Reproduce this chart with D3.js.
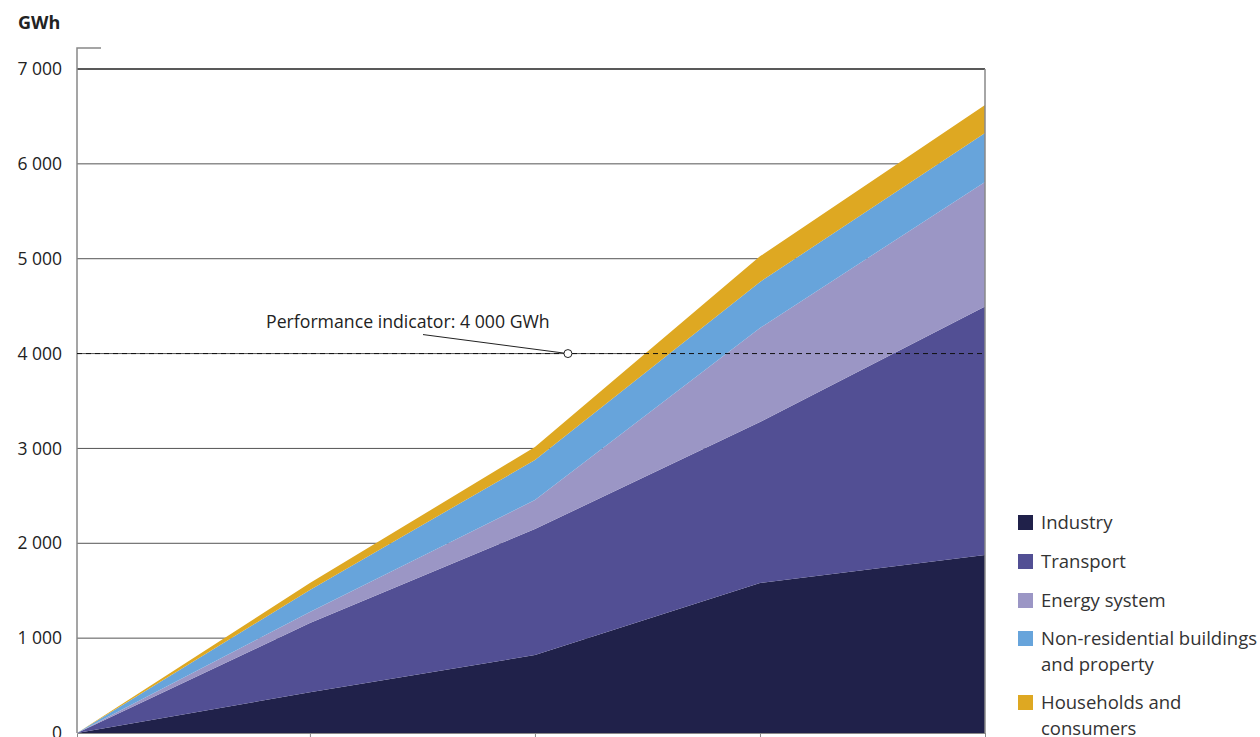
<!DOCTYPE html>
<html>
<head>
    <script src="https://d3js.org/d3.v7.min.js"></script>
    <style>
        body {
            margin: 0;
            background: #fff;
            font-family: 'Open Sans', sans-serif;
            color: #222;
            overflow: hidden;
        }
        .tick-label { font-size: 17.5px; fill: #222; }
        .legend-text { font-size: 18.5px; fill: #333; }
    </style>
</head>
<body>
<div id="chart"></div>
<script>
// Data (GWh per period, stacked from the bottom)
const periods = [0, 1.035, 2.035, 3.035, 4.035];
const industry = [0, 430, 822, 1581, 1876];
const transport = [0, 730, 1328, 1698, 2619];
const energySystem = [0, 116, 306, 991, 1314];
const nonResidential = [0, 232, 422, 485, 516];
const households = [0, 73, 137, 270, 295];

const seriesKeys = ["industry", "transport", "energy", "nonres", "households"];
const seriesLabels = [
    ["Industry"],
    ["Transport"],
    ["Energy system"],
    ["Non-residential buildings", "and property"],
    ["Households and", "consumers"]
];
const seriesColors = ["#20214a", "#524f94", "#9b96c5", "#67a4db", "#dea822"];

const yTicks = [0, 1000, 2000, 3000, 4000, 5000, 6000, 7000];
const target = 4000;
const targetLabel = "Performance indicator: 4 000 GWh";

const rows = periods.map((p, i) => ({
    period: p,
    industry: industry[i],
    transport: transport[i],
    energy: energySystem[i],
    nonres: nonResidential[i],
    households: households[i]
}));

const width = 1260;
const height = 737;
const margin = { top: 69, right: 275, bottom: 4, left: 77 };
const chartWidth = width - margin.left - margin.right;
const chartHeight = height - margin.top - margin.bottom;

const svg = d3.select("#chart")
    .append("svg")
    .attr("width", width)
    .attr("height", height);

const g = svg.append("g")
    .attr("transform", `translate(${margin.left},${margin.top})`);

const x = d3.scaleLinear()
    .domain([0, d3.max(periods)])
    .range([0, chartWidth]);

const y = d3.scaleLinear()
    .domain([0, 7000])
    .range([chartHeight, 0]);

// Gridlines
g.append("g")
    .selectAll("line")
    .data(yTicks.filter(d => d > 0))
    .join("line")
    .attr("x1", 0)
    .attr("x2", chartWidth)
    .attr("y1", d => y(d))
    .attr("y2", d => y(d))
    .attr("stroke", d => d === 7000 ? "#222" : "#555")
    .attr("stroke-width", d => d === 7000 ? 1.3 : 1);

// Stacked areas
const stack = d3.stack().keys(seriesKeys);
const stacked = stack(rows);

const area = d3.area()
    .x(d => x(d.data.period))
    .y0(d => y(d[0]))
    .y1(d => y(d[1]));

g.append("g")
    .selectAll("path")
    .data(stacked)
    .join("path")
    .attr("fill", (d, i) => seriesColors[i])
    .attr("d", area);

// Y axis labels
const yAxis = d3.axisLeft(y)
    .tickValues(yTicks)
    .tickSize(0)
    .tickPadding(15)
    .tickFormat(d => d3.format(",")(d).replace(/,/g, " "));

g.append("g")
    .call(yAxis)
    .call(s => s.select(".domain").remove())
    .selectAll("text")
    .attr("class", "tick-label")
    .style("font-family", "'Open Sans', sans-serif");

// Unit label
svg.append("text")
    .attr("x", 18)
    .attr("y", 29)
    .attr("font-size", 18)
    .attr("font-weight", "bold")
    .attr("fill", "#222")
    .text("GWh");

// Frame: left axis line with top cap, right edge
g.append("path")
    .attr("d", `M24,${-21}H0V${chartHeight}`)
    .attr("fill", "none")
    .attr("stroke", "#888")
    .attr("stroke-width", 1.5);

g.append("line")
    .attr("x1", chartWidth)
    .attr("x2", chartWidth)
    .attr("y1", y(7000))
    .attr("y2", chartHeight)
    .attr("stroke", "#888")
    .attr("stroke-width", 1.5);

// X axis (labels fall below the visible frame)
const xAxis = d3.axisBottom(x)
    .tickValues(periods.slice(1))
    .tickSize(6)
    .tickFormat("");

g.append("g")
    .attr("transform", `translate(0,${chartHeight})`)
    .call(xAxis)
    .call(s => s.select(".domain").attr("stroke", "#888"))
    .call(s => s.selectAll(".tick line").attr("stroke", "#888"));

// Target line
g.append("line")
    .attr("x1", 0)
    .attr("x2", chartWidth)
    .attr("y1", y(target))
    .attr("y2", y(target))
    .attr("stroke", "#111")
    .attr("stroke-width", 1)
    .attr("stroke-dasharray", "5,4");

const markerX = x(2.035) + 33;
g.append("line")
    .attr("x1", 346)
    .attr("y1", y(target) - 19)
    .attr("x2", markerX - 4)
    .attr("y2", y(target) - 0.5)
    .attr("stroke", "#222")
    .attr("stroke-width", 1);

g.append("circle")
    .attr("cx", markerX)
    .attr("cy", y(target))
    .attr("r", 4)
    .attr("fill", "#fff")
    .attr("stroke", "#222")
    .attr("stroke-width", 1);

g.append("text")
    .attr("x", 189)
    .attr("y", y(target) - 26)
    .attr("font-size", 17.7)
    .attr("fill", "#222")
    .text(targetLabel);

// Legend
const legendTop = [522, 561, 600, 638, 702];
const legend = svg.append("g")
    .selectAll("g")
    .data(seriesLabels)
    .join("g")
    .attr("transform", (d, i) => `translate(1018,${legendTop[i]})`);

legend.append("rect")
    .attr("x", 0)
    .attr("y", -7)
    .attr("width", 15)
    .attr("height", 15)
    .attr("fill", (d, i) => seriesColors[i]);

legend.append("text")
    .attr("class", "legend-text")
    .attr("x", 23)
    .attr("y", 7)
    .selectAll("tspan")
    .data(d => d)
    .join("tspan")
    .attr("x", 23)
    .attr("dy", (d, i) => i === 0 ? 0 : 26)
    .text(d => d);
</script>
</body>
</html>
